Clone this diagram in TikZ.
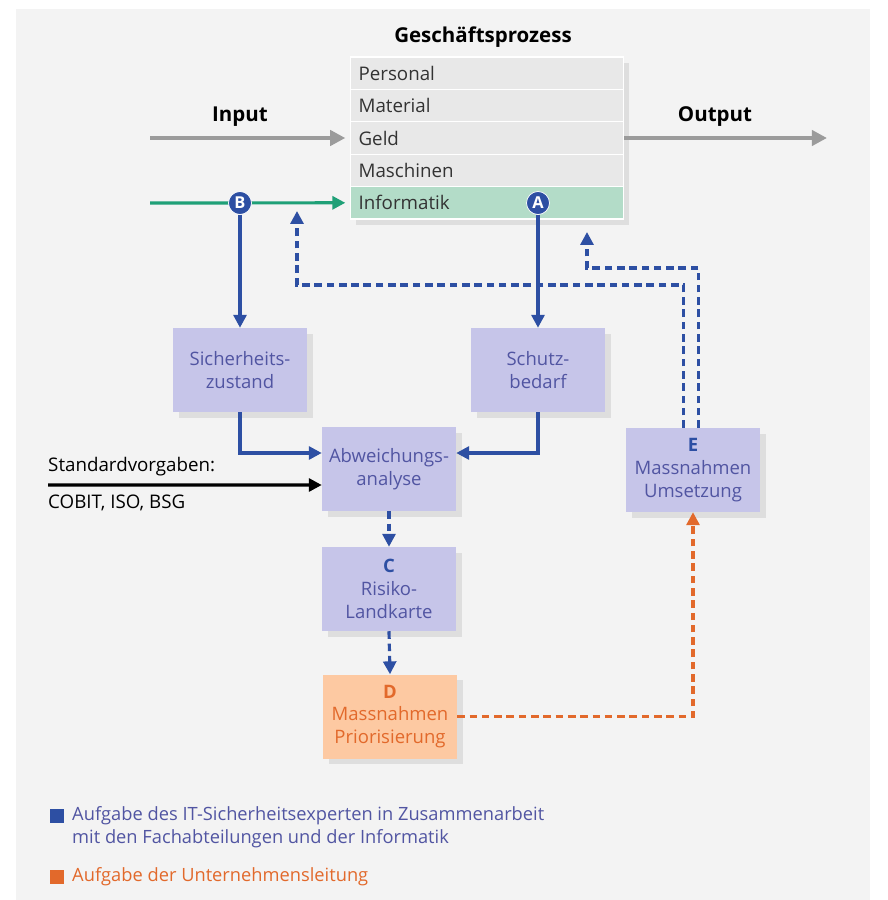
\documentclass[tikz,border=0pt]{standalone}
\usepackage{fontspec}
\setmainfont{Open Sans}
\usetikzlibrary{
		arrows.meta,
		positioning,
		shadows
	}
\definecolor{bggray}{HTML}{F3F3F3}
\definecolor{rowgray}{HTML}{E8E8E8}
\definecolor{infogreen}{HTML}{B3DCC8}
\definecolor{itblue}{HTML}{2D4FA3}
\definecolor{boxfill}{HTML}{C6C5E9}
\definecolor{boxtext}{HTML}{5155A2}
\definecolor{mgmtorange}{HTML}{E2692B}
\definecolor{peach}{HTML}{FDC9A2}
\definecolor{arrowgray}{HTML}{9B9B9B}
\definecolor{flowgreen}{HTML}{1FA077}
\tikzset{
		>={Triangle[length=11pt,width=11pt]},
		shadowed/.style={drop shadow={opacity=0.18,shadow xshift=5pt,shadow yshift=-5pt}},
		tabrow/.style={anchor=west, fill=rowgray, draw=white, line width=1pt,
			minimum width=8.19cm, minimum height=0.972cm, inner xsep=0.24cm,
			text width=7.71cm, align=left, text=black!80,
			font=\fontsize{16}{18}\selectfont},
		stepbox/.style={fill=boxfill, shadowed, minimum width=4.02cm,
			minimum height=2.52cm, align=center, text=boxtext,
			font=\fontsize{15.8}{19.5}\selectfont},
		mark letter/.style={circle, fill=itblue, draw=white, line width=0.6pt,
			inner sep=0pt, minimum size=0.69cm, text=white,
			font=\fontsize{14}{14}\selectfont\bfseries},
		blueline/.style={itblue, line width=2.7pt},
		bluedash/.style={blueline, dash pattern=on 6.5pt off 4pt},
		orangedash/.style={mgmtorange, line width=2.7pt, dash pattern=on 6.5pt off 4pt},
		grayarrow/.style={arrowgray, line width=3.3pt,
			-{Triangle[length=13pt,width=13pt]}},
		bold head/.style={font=\fontsize{17.5}{20}\selectfont\bfseries},
		plain text/.style={inner sep=0pt, font=\fontsize{16}{18}\selectfont},
		legend text/.style={anchor=west, inner sep=0pt, align=left,
			font=\fontsize{15.6}{20}\selectfont}
	}

\begin{document}
\begin{tikzpicture}[x=0.03cm,y=-0.03cm]
    % page and background
    \useasboundingbox (0,0) rectangle (887,900);
    \fill[white] (0,0) rectangle (887,900);
    \fill[bggray] (16,9) rectangle (870,900);

    % the business process table
    \node[bold head] (gp) at (483,37) {Geschäftsprozess};
    \fill[rowgray, shadowed] (350,57) rectangle (623,219);
    \node[tabrow] (pers) at (350,73.2) {Personal};
    \node[tabrow] (mat) at (350,105.6) {Material};
    \node[tabrow] (geld) at (350,138) {Geld};
    \node[tabrow] (masch) at (350,170.4) {Maschinen};
    \node[tabrow, fill=infogreen] (info) at (350,202.8) {Informatik};

    % input and output
    \node[bold head] (inlabel) at (240,117) {Input};
    \node[bold head] (outlabel) at (715,117) {Output};
    \coordinate (instart) at (150,138);
    \coordinate (outend) at (827,138);
    \draw[grayarrow] (instart) -- ([xshift=-4pt]geld.west);
    \draw[grayarrow] (geld.east) -- (outend);

    % the green flow into Informatik
    \coordinate (greenstart) at (150,203);
    \draw[flowgreen, line width=2.7pt, -{Triangle[length=11pt,width=11pt]}]
        (greenstart) -- ([xshift=-4pt]info.west);

    % the boxes
    \node[stepbox] (zustand) at (240,370) {Sicherheits-\\zustand};
    \node[stepbox] (bedarf) at (538,370) {Schutz-\\bedarf};
    \node[stepbox] (abw) at (389,469) {Abweichungs-\\analyse};
    \node[stepbox] (risk) at (389,589) {\textcolor{itblue}{\bfseries C}\\Risiko-\\Landkarte};
    \node[stepbox, fill=peach, text=mgmtorange] (prio) at (390,716.5)
        {\bfseries D\\Massnahmen\\Priorisierung};
    \node[stepbox] (umsetz) at (693,470) {\textcolor{itblue}{\bfseries E}\\Massnahmen\\Umsetzung};

    % the marks A and B
    \node[mark letter] (B) at (240,203) {B};
    \node[mark letter] (A) at (538,203) {A};

    % solid arrows
    \draw[blueline,->] (B) -- (zustand.north);
    \draw[blueline,->] (A) -- (bedarf.north);
    \draw[blueline,->] (zustand.south) |- ([yshift=0.48cm]abw.west);
    \draw[blueline,->] (bedarf.south) |- ([yshift=0.48cm]abw.east);

    % the standards
    \coordinate (stdstart) at (48,485);
    \draw[black, line width=2.7pt, ->] (stdstart) -- ([yshift=-0.48cm]abw.west);
    \node[plain text, anchor=west] (stdlabel) at (48,467) {Standardvorgaben:};
    \node[plain text, anchor=west] (stdlist) at (48,503) {COBIT, ISO, BSG};

    % dashed arrows
    \draw[bluedash,->] (abw.south) -- (risk.north);
    \draw[bluedash,->] (risk.south) -- (prio.north);
    \draw[orangedash,->] (prio.east) -| (umsetz.south);

    \coordinate (backa) at (297,285);
    \coordinate (backatip) at (297,211);
    \coordinate (backb) at (587,268);
    \coordinate (backbtip) at (587,232);
    \draw[bluedash,->] ([xshift=-0.285cm]umsetz.north) |- (backa) -- (backatip);
    \draw[bluedash,->] ([xshift=0.165cm]umsetz.north) |- (backb) -- (backbtip);

    % the legend
    \node[fill=itblue, inner sep=0pt, minimum size=0.4cm] (legblue) at (57,816) {};
    \node[fill=mgmtorange, inner sep=0pt, minimum size=0.4cm] (legorange) at (57,877) {};
    \node[legend text, anchor=north west, text=boxtext] (legbluetext) at (72,806)
        {Aufgabe des IT-Sicherheitsexperten in Zusammenarbeit\\mit den Fachabteilungen und der Informatik};
    \node[legend text, text=mgmtorange] (legorangetext) at (72,877)
        {Aufgabe der Unternehmensleitung};
\end{tikzpicture}
\end{document}
